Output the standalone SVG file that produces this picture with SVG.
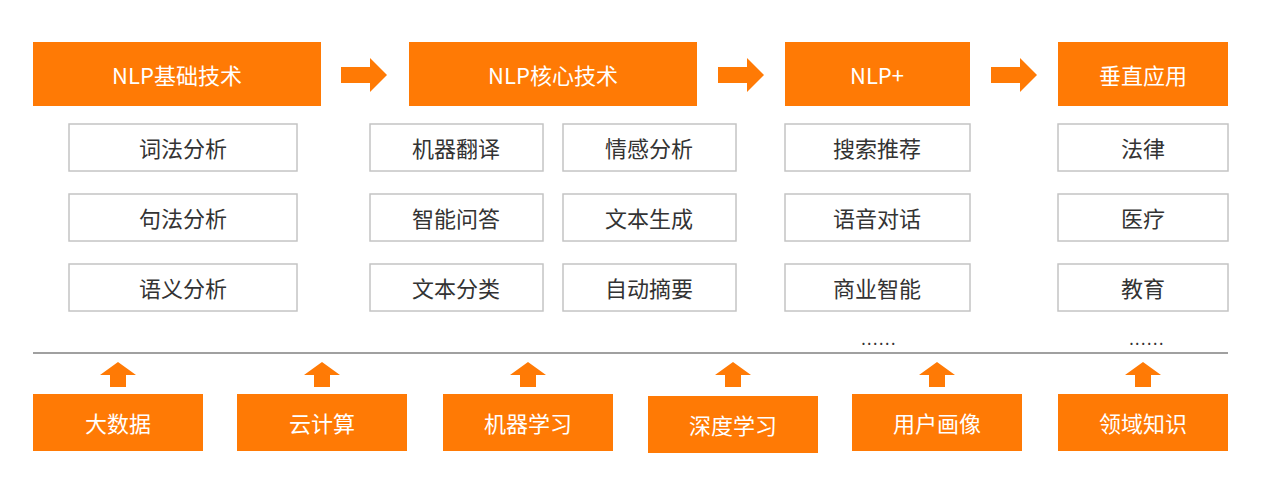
<svg xmlns="http://www.w3.org/2000/svg" width="1265" height="479" viewBox="0 0 1265 479">
<style>
.o{fill:#FF7A05}
.w{fill:#fff;stroke:#c4c4c4;stroke-width:1.5}
.t{font-family:"Noto Sans CJK SC","Noto Sans",sans-serif;font-size:22px;text-anchor:middle;dominant-baseline:central}
.tw{fill:#fff}
.tk{fill:#333}
.ar{fill:#FF7A05}
.dots{font-size:16px;letter-spacing:1.5px}
</style>
<defs>
<path id="ra" d="M0,-8 H29 V-17 L46,0 L29,17 V8 H0 Z"/>
<path id="ua" d="M-8,24 V12 H-18 L0,-1 L18,12 H8 V24 Z"/>
</defs>
<rect width="1265" height="479" fill="#fff"/>
<g id="connectors">
<use href="#ra" x="341" y="75" class="ar"/>
<use href="#ra" x="718" y="75" class="ar"/>
<use href="#ra" x="991" y="75" class="ar"/>
<line x1="33" y1="353" x2="1228" y2="353" stroke="#a0a0a0" stroke-width="2"/>
<use href="#ua" x="118" y="363" class="ar"/>
<use href="#ua" x="322" y="363" class="ar"/>
<use href="#ua" x="528" y="363" class="ar"/>
<use href="#ua" x="733" y="363" class="ar"/>
<use href="#ua" x="937" y="363" class="ar"/>
<use href="#ua" x="1143" y="363" class="ar"/>
</g>
<g id="h1"><rect class="o" x="33" y="42" width="288" height="64"/><text class="t tw" x="177" y="74">NLP基础技术</text></g>
<g id="h2"><rect class="o" x="409" y="42" width="288" height="64"/><text class="t tw" x="553" y="74">NLP核心技术</text></g>
<g id="h3"><rect class="o" x="785" y="42" width="185" height="64"/><text class="t tw" x="877" y="74">NLP+</text></g>
<g id="h4"><rect class="o" x="1058" y="42" width="170" height="64"/><text class="t tw" x="1143" y="74">垂直应用</text></g>

<g id="n1"><rect class="w" x="69" y="124" width="228" height="47"/><text class="t tk" x="183" y="147">词法分析</text></g>
<g id="n2"><rect class="w" x="69" y="194" width="228" height="47"/><text class="t tk" x="183" y="217">句法分析</text></g>
<g id="n3"><rect class="w" x="69" y="264" width="228" height="47"/><text class="t tk" x="183" y="287">语义分析</text></g>

<g id="n4"><rect class="w" x="370" y="124" width="173" height="47"/><text class="t tk" x="456" y="147">机器翻译</text></g>
<g id="n5"><rect class="w" x="370" y="194" width="173" height="47"/><text class="t tk" x="456" y="217">智能问答</text></g>
<g id="n6"><rect class="w" x="370" y="264" width="173" height="47"/><text class="t tk" x="456" y="287">文本分类</text></g>
<g id="n7"><rect class="w" x="563" y="124" width="173" height="47"/><text class="t tk" x="649" y="147">情感分析</text></g>
<g id="n8"><rect class="w" x="563" y="194" width="173" height="47"/><text class="t tk" x="649" y="217">文本生成</text></g>
<g id="n9"><rect class="w" x="563" y="264" width="173" height="47"/><text class="t tk" x="649" y="287">自动摘要</text></g>

<g id="n10"><rect class="w" x="785" y="124" width="185" height="47"/><text class="t tk" x="877" y="147">搜索推荐</text></g>
<g id="n11"><rect class="w" x="785" y="194" width="185" height="47"/><text class="t tk" x="877" y="217">语音对话</text></g>
<g id="n12"><rect class="w" x="785" y="264" width="185" height="47"/><text class="t tk" x="877" y="287">商业智能</text></g>
<g id="d1"><text class="t tk dots" x="879" y="338">......</text></g>

<g id="n13"><rect class="w" x="1058" y="124" width="170" height="47"/><text class="t tk" x="1143" y="147">法律</text></g>
<g id="n14"><rect class="w" x="1058" y="194" width="170" height="47"/><text class="t tk" x="1143" y="217">医疗</text></g>
<g id="n15"><rect class="w" x="1058" y="264" width="170" height="47"/><text class="t tk" x="1143" y="287">教育</text></g>
<g id="d2"><text class="t tk dots" x="1147" y="338">......</text></g>

<g id="b1"><rect class="o" x="33" y="394" width="170" height="57"/><text class="t tw" x="118" y="422">大数据</text></g>
<g id="b2"><rect class="o" x="237" y="394" width="170" height="57"/><text class="t tw" x="322" y="422">云计算</text></g>
<g id="b3"><rect class="o" x="443" y="394" width="170" height="57"/><text class="t tw" x="528" y="422">机器学习</text></g>
<g id="b4"><rect class="o" x="648" y="396" width="170" height="57"/><text class="t tw" x="733" y="424">深度学习</text></g>
<g id="b5"><rect class="o" x="852" y="394" width="170" height="57"/><text class="t tw" x="937" y="422">用户画像</text></g>
<g id="b6"><rect class="o" x="1058" y="394" width="170" height="57"/><text class="t tw" x="1143" y="422">领域知识</text></g>
</svg>
